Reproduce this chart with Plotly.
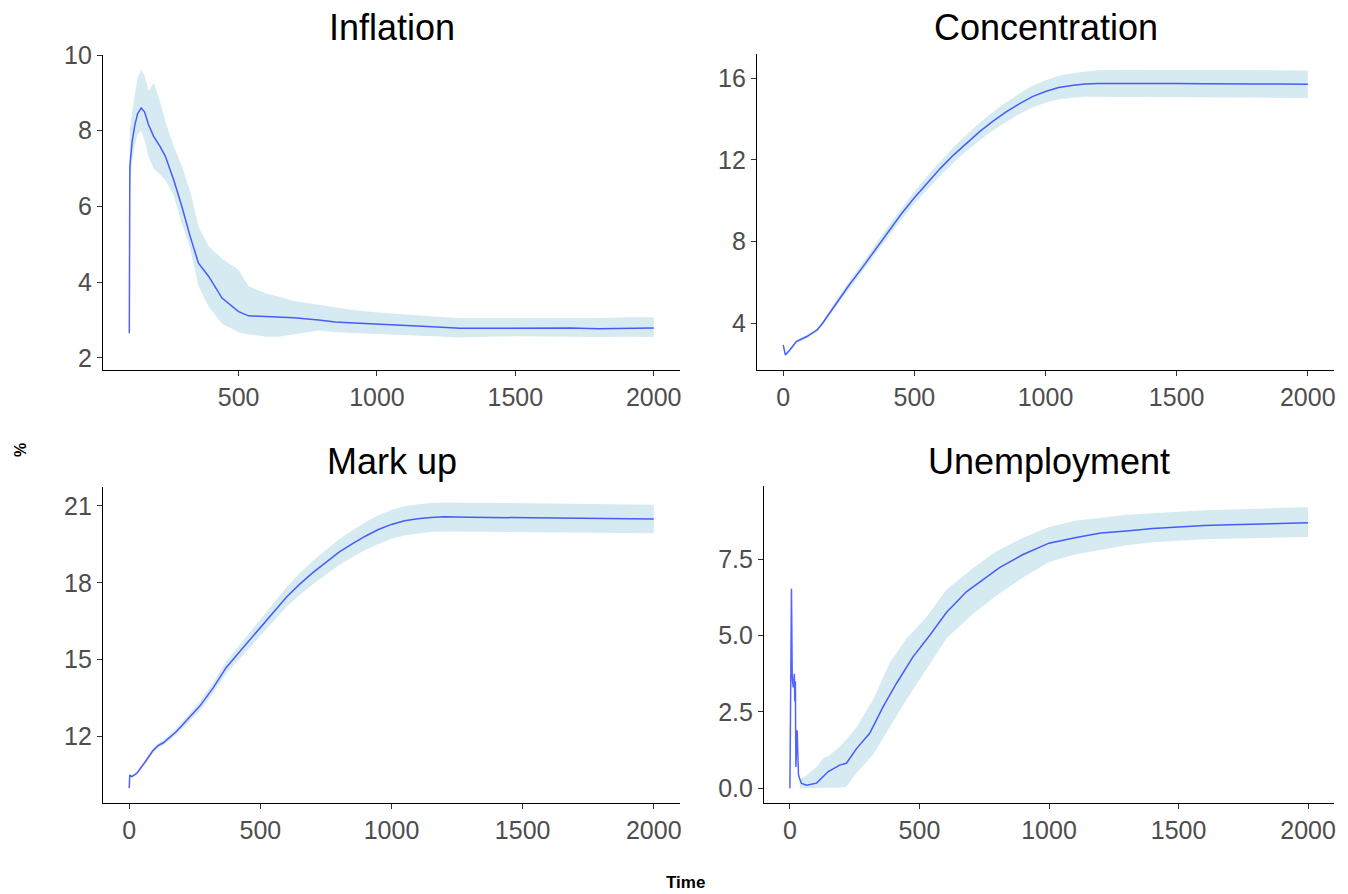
import plotly.graph_objects as go

# ---------------- data ----------------
# Inflation
inf_t = [105, 107, 115, 125, 135, 148, 160, 175, 193, 215, 235, 265, 295, 325, 355, 392, 440, 500, 536, 600,
         645, 700, 789, 850, 900, 1000, 1100, 1200, 1300, 1400, 1500, 1600, 1700, 1800, 1900, 2000]
inf_mean = [2.65, 7.06, 7.7, 8.15, 8.45, 8.6, 8.5, 8.15, 7.85, 7.6, 7.33, 6.71, 6.0, 5.21, 4.5, 4.15, 3.58, 3.22, 3.11, 3.09,
            3.09, 3.06, 3.0, 2.95, 2.93, 2.9, 2.87, 2.82, 2.78, 2.78, 2.78, 2.78, 2.79, 2.77, 2.78, 2.79]
inf_lower = [2.06, 6.2, 7.2, 7.6, 7.9, 8.0, 7.75, 7.3, 7.0, 6.85, 6.7, 6.3, 5.55, 4.9, 3.9, 3.35, 2.9, 2.68, 2.62, 2.56,
             2.56, 2.62, 2.72, 2.68, 2.66, 2.62, 2.6, 2.57, 2.54, 2.56, 2.57, 2.56, 2.56, 2.55, 2.56, 2.55]
inf_upper = [3.3, 8.0, 8.5, 9.0, 9.4, 9.62, 9.45, 9.05, 9.27, 8.8, 8.25, 7.6, 7.06, 6.4, 5.47, 4.95, 4.62, 4.33, 3.89, 3.7,
             3.62, 3.5, 3.4, 3.32, 3.28, 3.2, 3.15, 3.1, 3.05, 3.05, 3.05, 3.06, 3.06, 3.05, 3.07, 3.07]

# Concentration
con_t = [0, 8, 25, 50, 90, 130, 150, 200, 250, 300, 350, 400, 450, 500, 550, 600, 650, 700, 750, 800, 850, 900,
         950, 1000, 1050, 1100, 1150, 1200, 1300, 1400, 1500, 1600, 1700, 1800, 1900, 2000]
con_mean = [2.94, 2.45, 2.69, 3.1, 3.35, 3.68, 4.0, 4.95, 5.85, 6.7, 7.6, 8.5, 9.35, 10.15, 10.9, 11.6, 12.25, 12.85,
            13.4, 13.9, 14.35, 14.75, 15.1, 15.35, 15.55, 15.65, 15.72, 15.75, 15.76, 15.74, 15.75, 15.73, 15.74, 15.72, 15.72, 15.71]
con_lower = [2.9, 2.4, 2.63, 3.03, 3.27, 3.59, 3.9, 4.8, 5.68, 6.5, 7.37, 8.25, 9.07, 9.85, 10.57, 11.25, 11.87, 12.45,
             12.97, 13.45, 13.87, 14.25, 14.57, 14.8, 14.97, 15.05, 15.1, 15.1, 15.08, 15.06, 15.07, 15.05, 15.05, 15.04, 15.04, 15.03]
con_upper = [2.98, 2.5, 2.75, 3.17, 3.43, 3.77, 4.1, 5.1, 6.02, 6.9, 7.83, 8.75, 9.63, 10.45, 11.23, 11.95, 12.63, 13.25,
             13.83, 14.35, 14.83, 15.25, 15.63, 15.9, 16.13, 16.25, 16.34, 16.4, 16.42, 16.41, 16.42, 16.4, 16.41, 16.39, 16.39, 16.38]

# Mark up
mk_t = [0, 2, 10, 30, 60, 90, 110, 130, 180, 220, 270, 320, 370, 420, 470, 500, 550, 600, 650, 700, 750, 800, 850,
        900, 950, 1000, 1050, 1100, 1150, 1200, 1300, 1400, 1500, 1600, 1700, 1800, 1900, 2000]
mk_mean = [9.99, 10.5, 10.44, 10.58, 11.0, 11.45, 11.65, 11.76, 12.2, 12.65, 13.2, 13.9, 14.7, 15.3, 15.9, 16.25, 16.85,
           17.45, 17.95, 18.4, 18.8, 19.2, 19.52, 19.82, 20.08, 20.28, 20.42, 20.5, 20.55, 20.58, 20.56, 20.55, 20.54,
           20.53, 20.52, 20.5, 20.5, 20.49]
mk_lower = [9.97, 10.47, 10.4, 10.52, 10.93, 11.37, 11.56, 11.66, 12.08, 12.5, 13.02, 13.69, 14.46, 15.03, 15.6, 15.93,
            16.5, 17.07, 17.53, 17.95, 18.32, 18.7, 19.0, 19.28, 19.52, 19.72, 19.85, 19.93, 19.98, 20.0, 19.99, 19.98,
            19.98, 19.97, 19.96, 19.95, 19.95, 19.94]
mk_upper = [10.01, 10.53, 10.48, 10.64, 11.07, 11.53, 11.74, 11.86, 12.32, 12.8, 13.38, 14.11, 14.94, 15.57, 16.2, 16.57,
            17.2, 17.83, 18.37, 18.85, 19.28, 19.7, 20.04, 20.36, 20.64, 20.84, 20.99, 21.07, 21.12, 21.14, 21.13, 21.12,
            21.11, 21.1, 21.09, 21.07, 21.06, 21.05]

# Unemployment
un_t = [0, 6, 9, 13, 17, 19, 21, 23, 28, 33, 38, 45, 64, 103, 148, 192, 218, 257, 308, 360, 411, 475, 540, 604,
        681, 758, 809, 900, 1000, 1100, 1200, 1300, 1400, 1500, 1600, 1700, 1800, 1900, 2000]
un_mean = [0.0, 6.53, 3.6, 3.3, 3.75, 2.85, 3.5, 0.7, 1.9, 0.45, 0.3, 0.16, 0.1, 0.17, 0.55, 0.76, 0.82, 1.3, 1.8,
           2.67, 3.43, 4.3, 5.01, 5.75, 6.43, 6.92, 7.22, 7.65, 8.02, 8.2, 8.35, 8.42, 8.5, 8.55, 8.6, 8.62, 8.65, 8.67, 8.69]
un_band_t = [38, 64, 103, 128, 148, 192, 218, 257, 321, 385, 450, 527, 604, 706, 796, 900, 1000, 1100, 1200, 1300,
             1400, 1500, 1600, 1700, 1800, 1900, 2000]
un_lower = [0.0, 0.0, 0.0, 0.0, 0.02, 0.03, 0.05, 0.5, 1.1, 2.0, 2.9, 3.9, 4.9, 5.7, 6.3, 6.9, 7.4, 7.65, 7.8, 7.95,
            8.05, 8.1, 8.15, 8.18, 8.2, 8.2, 8.22]
un_upper = [0.3, 0.43, 0.7, 0.98, 1.05, 1.36, 1.6, 2.0, 2.9, 4.1, 4.9, 5.6, 6.5, 7.2, 7.75, 8.2, 8.55, 8.75, 8.85,
            8.95, 9.0, 9.05, 9.1, 9.12, 9.15, 9.18, 9.2]

titles = ["Inflation", "Concentration", "Mark up", "Unemployment"]
x_ticks_inf = [500, 1000, 1500, 2000]
x_ticks = [0, 500, 1000, 1500, 2000]
y_ticks = [[2, 4, 6, 8, 10], [4, 8, 12, 16], [12, 15, 18, 21], [0, 2.5, 5, 7.5]]

# ---------------- styling / layout ----------------
W, H = 1348, 894
BAND = "rgb(214,234,242)"
LINE = "rgba(0,25,255,0.68)"
FONT = "Liberation Sans, Arial, sans-serif"
TICKC = "#4D4D4D"

# pixel boxes: (left, right, top, bottom)
boxes = [(103, 680, 55, 370), (757, 1334, 54, 370), (103, 680, 487, 803), (764, 1334, 486, 803)]
x_ranges = [[10, 2095], [-100, 2100], [-100, 2100], [-100, 2100]]
y_ranges = [[1.68, 10.0], [1.71, 17.19], [9.41, 21.74], [-0.48, 9.89]]

series = [
    (inf_t, inf_mean, inf_t, inf_lower, inf_upper),
    (con_t, con_mean, con_t, con_lower, con_upper),
    (mk_t, mk_mean, mk_t, mk_lower, mk_upper),
    (un_t, un_mean, un_band_t, un_lower, un_upper),
]

fig = go.Figure()
layout = dict(width=W, height=H, margin=dict(l=0, r=0, t=0, b=0, pad=0, autoexpand=False),
              paper_bgcolor="white", plot_bgcolor="white", showlegend=False,
              font=dict(family=FONT))
annotations = []

for i, (t, m, bt, lo, up) in enumerate(series):
    k = "" if i == 0 else str(i + 1)
    xa, ya = "x" + k, "y" + k
    fig.add_trace(go.Scatter(x=list(bt) + list(bt)[::-1], y=list(up) + list(lo)[::-1],
                             fill="toself", fillcolor=BAND, line=dict(width=0),
                             mode="lines", hoverinfo="skip", xaxis=xa, yaxis=ya))
    fig.add_trace(go.Scatter(x=t, y=m, mode="lines", line=dict(color=LINE, width=1.5),
                             xaxis=xa, yaxis=ya))
    l, r, tp, bt_px = boxes[i]
    common = dict(showgrid=False, zeroline=False, showline=True, linecolor="black", linewidth=1.2,
                  ticks="outside", ticklen=5, tickcolor="#333333", tickwidth=1.1, automargin=False,
                  tickfont=dict(size=25, color=TICKC, family=FONT))
    layout["xaxis" + k] = dict(domain=[l / W, r / W], range=x_ranges[i], anchor=ya,
                               tickvals=x_ticks_inf if i == 0 else x_ticks, **common)
    yt = y_ticks[i]
    layout["yaxis" + k] = dict(domain=[1 - bt_px / H, 1 - tp / H], range=y_ranges[i], anchor=xa,
                               tickvals=yt, tickformat=".1f" if i == 3 else "d", **common)
    annotations.append(dict(text=titles[i], x=(l + r) / 2 / W, y=1 - (27 if i < 2 else 461) / H,
                            xref="paper", yref="paper", showarrow=False, xanchor="center", yanchor="middle",
                            font=dict(size=36, color="black", family=FONT)))

annotations.append(dict(text="<b>%</b>", x=20 / W, y=1 - 450 / H, xref="paper", yref="paper", showarrow=False,
                        textangle=-90, xanchor="center", yanchor="middle",
                        font=dict(size=16, color="black", family=FONT)))
annotations.append(dict(text="<b>Time</b>", x=685 / W, y=1 - 882 / H, xref="paper", yref="paper", showarrow=False,
                        xanchor="center", yanchor="middle", font=dict(size=17, color="black", family=FONT)))
layout["annotations"] = annotations
fig.update_layout(**layout)
fig.write_html("out.html")
